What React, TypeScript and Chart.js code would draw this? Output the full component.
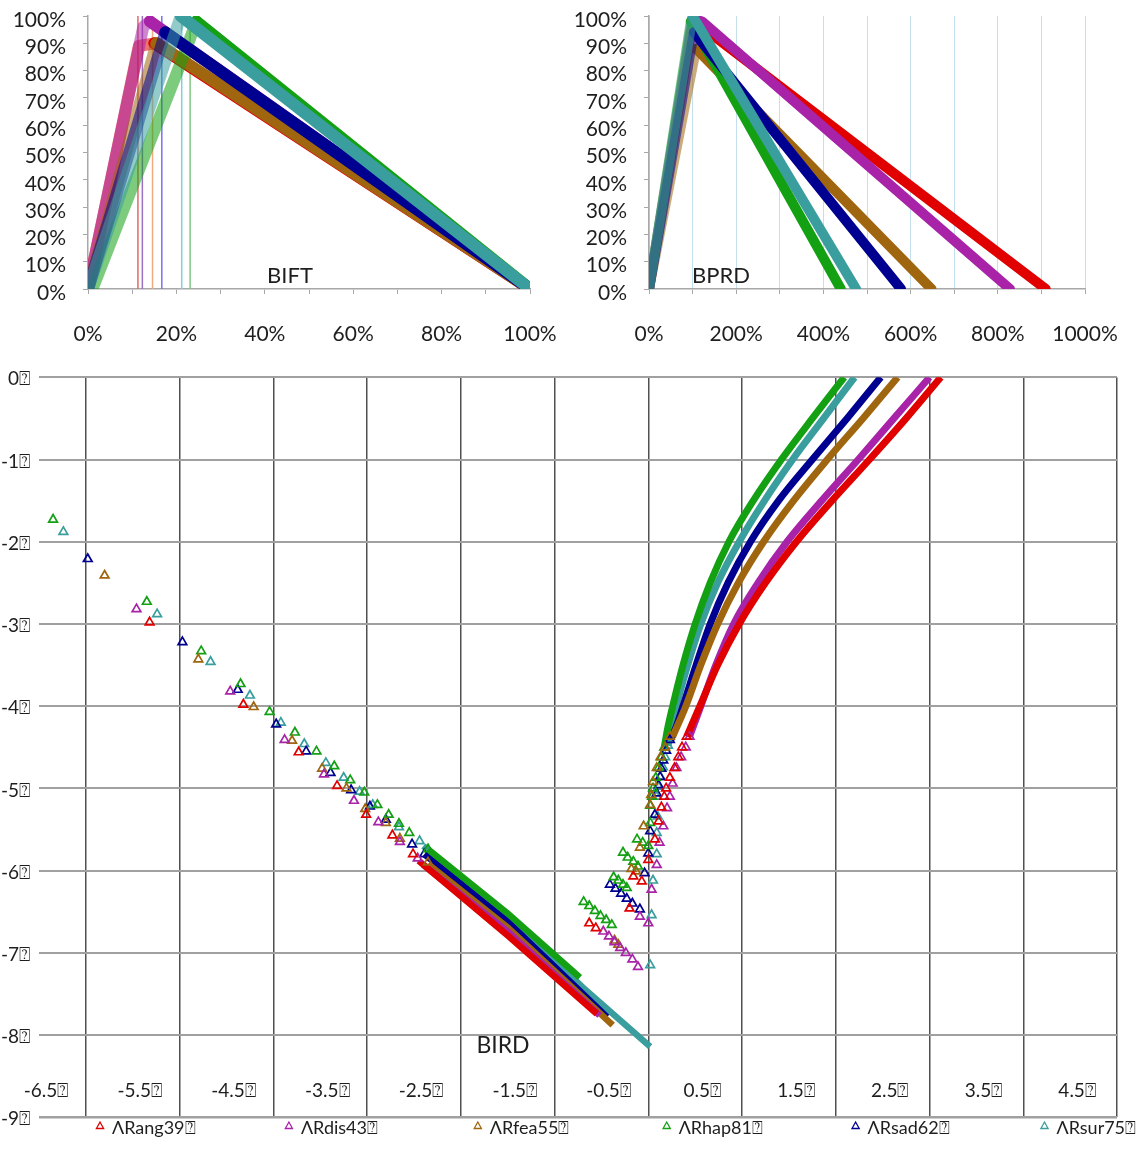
import React, { useEffect, useRef } from 'react';
import { Chart, registerables } from 'chart.js';

Chart.register(...registerables);

const FONT = 'Lato, "Noto Sans", "DejaVu Sans", sans-serif';
const TOFU = '\u2370';
const TEXT = '#1e1e1e';
const AXIS_GRAY = '#a8a8a8';
const LIGHT_BLUE = '#c4dfee';

const SERIES_LABELS = ['ΛRang39', 'ΛRdis43', 'ΛRfea55', 'ΛRhap81', 'ΛRsad62', 'ΛRsur75'];
const SERIES_COLORS = ['#e00000', '#a823a8', '#a0660f', '#13a013', '#000090', '#3a9e9e'];

// ---------- shared percentage axis ----------
const PCT_Y_TICKS = [0, 10, 20, 30, 40, 50, 60, 70, 80, 90, 100];
const PCT_Y_LABELS = ['0%', '10%', '20%', '30%', '40%', '50%', '60%', '70%', '80%', '90%', '100%'];

// ---------- BIFT (top left) ----------
const BIFT_X_TICKS = [0, 10, 20, 30, 40, 50, 60, 70, 80, 90, 100];
const BIFT_X_LABELS = ['0%', '', '20%', '', '40%', '', '60%', '', '80%', '', '100%'];
const BIFT_RANG = [[0, 0], [11.5, 89], [15, 90], [100, 0]];
const BIFT_RDIS = [[0, 0], [12.5, 96], [14, 98], [100, 0]];
const BIFT_RFEA = [[0, 0], [15.5, 90], [100, 0]];
const BIFT_RHAP = [[1, 0], [22, 87], [24.5, 98], [100, 0]];
const BIFT_RSAD = [[0, 0], [17.5, 94], [100, 0]];
const BIFT_RSUR = [[0, 0], [21, 100], [100, 0]];
const BIFT_MARK_X = [11.3, 12.3, 14.6, 23.1, 16.7, 21.2];
const BIFT_MARK_COLORS = ['#e06a6a', '#9a72c4', '#f2aa7c', '#82c882', '#7474f0', '#80d0d8'];

// ---------- BPRD (top right) ----------
const BPRD_X_TICKS = [0, 100, 200, 300, 400, 500, 600, 700, 800, 900, 1000];
const BPRD_X_LABELS = ['0%', '', '200%', '', '400%', '', '600%', '', '800%', '', '1000%'];
const BPRD_RANG = [[0, 0], [100, 97], [130, 95], [910, 0]];
const BPRD_RDIS = [[0, 0], [100, 99], [122, 98], [828, 0]];
const BPRD_RFEA = [[0, 0], [108, 88], [648, 0]];
const BPRD_RHAP = [[0, 0], [96, 98], [440, 0]];
const BPRD_RSAD = [[0, 0], [103, 94], [578, 0]];
const BPRD_RSUR = [[0, 0], [100, 100], [475, 0]];

// ---------- BIRD (bottom) ----------
const BIRD_Y_TICKS = [0, -1, -2, -3, -4, -5, -6, -7, -8, -9];
const BIRD_X_GRID = [-6, -5, -4, -3, -2, -1, 0, 1, 2, 3, 4, 5];
const BIRD_X_LABEL_VALUES = [-6.5, -5.5, -4.5, -3.5, -2.5, -1.5, -0.5, 0.5, 1.5, 2.5, 3.5, 4.5];

const RANG_PTS = [
  [-5.32, -2.98], [-4.32, -3.98], [-3.73, -4.56], [-3.32, -4.97], [-3.01, -5.32], [-2.73, -5.57], [-2.51, -5.8],
  [-0.63, -6.64], [-0.56, -6.7],
  [-0.2, -6.46], [-0.16, -6.07], [-0.07, -6.13], [0.0, -5.87], [0.07, -5.62], [0.11, -5.4], [0.14, -5.23],
  [0.17, -5.1], [0.19, -5.0], [0.23, -4.87], [0.28, -4.75], [0.32, -4.62], [0.36, -4.5], [0.41, -4.37],
];
const RDIS_PTS = [
  [-5.46, -2.82], [-4.46, -3.82], [-3.88, -4.41], [-3.46, -4.83], [-3.14, -5.15], [-2.88, -5.41], [-2.65, -5.65], [-2.46, -5.85],
  [-0.48, -6.74], [-0.42, -6.8], [-0.36, -6.87], [-0.3, -6.94], [-0.24, -7.0], [-0.17, -7.08], [-0.11, -7.17],
  [-0.09, -6.56], [0.0, -6.64], [0.035, -6.23], [0.09, -5.93], [0.12, -5.66], [0.16, -5.46], [0.2, -5.24],
  [0.23, -5.1], [0.26, -4.94], [0.3, -4.75], [0.35, -4.62], [0.4, -4.5], [0.44, -4.37],
];
const RFEA_PTS = [
  [-5.8, -2.41], [-4.8, -3.43], [-4.21, -4.01], [-3.8, -4.42], [-3.48, -4.76], [-3.22, -5.0], [-3.02, -5.25], [-2.8, -5.42], [-2.65, -5.61], [-2.35, -5.9],
  [-0.36, -6.85], [-0.32, -6.9],
  [-0.18, -5.98], [-0.13, -6.01], [-0.09, -5.72], [-0.05, -5.46], [0.02, -5.2], [0.03, -5.08], [0.05, -4.92],
  [0.09, -4.75], [0.13, -4.62], [0.18, -4.5], [0.23, -4.37],
];
const RHAP_PTS = [
  [-6.35, -1.73], [-5.35, -2.73], [-4.77, -3.33], [-4.35, -3.73], [-4.04, -4.07], [-3.77, -4.32], [-3.54, -4.55], [-3.35, -4.73],
  [-3.18, -4.9], [-3.03, -5.05], [-2.89, -5.2], [-2.77, -5.32], [-2.66, -5.43], [-2.55, -5.54], [-2.35, -5.74],
  [-0.69, -6.38], [-0.63, -6.43], [-0.57, -6.49], [-0.51, -6.55], [-0.45, -6.6], [-0.39, -6.66],
  [-0.37, -6.08], [-0.32, -6.12], [-0.27, -6.17], [-0.23, -6.21],
  [-0.27, -5.78], [-0.22, -5.84], [-0.16, -5.89], [-0.11, -5.95],
  [-0.12, -5.62], [-0.06, -5.66], [0.0, -5.7],
  [0.02, -5.42], [0.02, -5.21], [0.04, -5.1], [0.05, -5.0], [0.08, -4.87], [0.11, -4.75], [0.14, -4.62], [0.17, -4.5],
];
const RSAD_PTS = [
  [-5.98, -2.21], [-4.97, -3.22], [-4.38, -3.8], [-3.97, -4.22], [-3.65, -4.55], [-3.39, -4.81], [-3.17, -5.02], [-2.97, -5.22], [-2.8, -5.38], [-2.52, -5.68], [-2.39, -5.8],
  [-0.41, -6.17], [-0.35, -6.22], [-0.29, -6.28], [-0.23, -6.34], [-0.17, -6.4], [-0.09, -6.47],
  [-0.04, -6.03], [0.0, -5.79], [0.02, -5.52], [0.07, -5.32], [0.09, -5.06], [0.11, -4.96], [0.125, -4.86],
  [0.14, -4.76], [0.16, -4.66], [0.19, -4.54], [0.23, -4.41],
];
const RSUR_PTS = [
  [-6.24, -1.88], [-5.24, -2.88], [-4.67, -3.46], [-4.25, -3.87], [-3.92, -4.2], [-3.67, -4.46], [-3.44, -4.69], [-3.25, -4.87],
  [-3.08, -5.04], [-2.94, -5.2], [-2.66, -5.47], [-2.44, -5.64],
  [0.02, -7.15], [0.035, -6.54], [0.05, -6.12], [0.09, -5.8], [0.09, -5.54], [0.1, -5.34], [0.09, -5.1],
  [0.11, -4.98], [0.13, -4.86], [0.155, -4.74], [0.18, -4.62], [0.21, -4.48],
];

const RANG_BAND = [[-2.45, -5.88], [-1.5, -6.79], [-0.55, -7.74]];
const RDIS_BAND = [[-2.4, -5.93], [-1.5, -6.74], [-0.52, -7.76]];
const RFEA_BAND = [[-2.35, -5.92], [-1.5, -6.69], [-0.38, -7.88]];
const RHAP_BAND = [[-2.35, -5.74], [-1.5, -6.52], [-0.73, -7.3]];
const RSAD_BAND = [[-2.39, -5.8], [-1.5, -6.62], [-0.44, -7.78]];
const RSUR_BAND = [[-2.4, -5.7], [-1.5, -6.55], [-0.7, -7.42], [0.02, -8.14]];

const RANG_CURVE = [[0.41, -4.37], [0.55, -4.0], [0.74, -3.5], [0.97, -3.0], [1.25, -2.5], [1.58, -2.0], [1.96, -1.5], [2.36, -1.0], [2.75, -0.5], [3.12, 0.0]];
const RDIS_CURVE = [[0.44, -4.37], [0.56, -4.0], [0.72, -3.5], [0.91, -3.0], [1.17, -2.5], [1.48, -2.0], [1.85, -1.5], [2.24, -1.0], [2.62, -0.5], [3.0, 0.0]];
const RFEA_CURVE = [[0.26, -4.37], [0.4, -4.0], [0.56, -3.5], [0.74, -3.0], [0.96, -2.5], [1.23, -2.0], [1.55, -1.5], [1.91, -1.0], [2.29, -0.5], [2.66, 0.0]];
const RHAP_CURVE = [[0.17, -4.5], [0.21, -4.25], [0.26, -4.0], [0.37, -3.5], [0.5, -3.0], [0.66, -2.5], [0.86, -2.0], [1.12, -1.5], [1.42, -1.0], [1.75, -0.5], [2.09, 0.0]];
const RSAD_CURVE = [[0.24, -4.41], [0.31, -4.21], [0.37, -4.0], [0.51, -3.5], [0.66, -3.0], [0.85, -2.5], [1.09, -2.0], [1.39, -1.5], [1.75, -1.0], [2.12, -0.5], [2.48, 0.0]];
const RSUR_CURVE = [[0.21, -4.48], [0.24, -4.33], [0.3, -4.0], [0.42, -3.5], [0.56, -3.0], [0.74, -2.5], [0.97, -2.0], [1.24, -1.5], [1.54, -1.0], [1.87, -0.5], [2.2, 0.0]];

const BIFT_SERIES = [BIFT_RANG, BIFT_RDIS, BIFT_RFEA, BIFT_RHAP, BIFT_RSAD, BIFT_RSUR];
const BPRD_SERIES = [BPRD_RANG, BPRD_RDIS, BPRD_RFEA, BPRD_RHAP, BPRD_RSAD, BPRD_RSUR];
const BIRD_PTS = [RANG_PTS, RDIS_PTS, RFEA_PTS, RHAP_PTS, RSAD_PTS, RSUR_PTS];
const BIRD_BANDS = [RANG_BAND, RDIS_BAND, RFEA_BAND, RHAP_BAND, RSAD_BAND, RSUR_BAND];
const BIRD_CURVES = [RANG_CURVE, RDIS_CURVE, RFEA_CURVE, RHAP_CURVE, RSAD_CURVE, RSUR_CURVE];

const toXY = (arr: number[][]) => arr.map(([x, y]) => ({ x, y }));

function hexA(hex: string, a: number) {
  const n = parseInt(hex.slice(1), 16);
  return `rgba(${(n >> 16) & 255},${(n >> 8) & 255},${n & 255},${a})`;
}

function textPlugin(id: string, text: string, x: number, y: number, size: number) {
  return {
    id,
    afterDraw(chart: any) {
      const ctx = chart.ctx;
      ctx.save();
      ctx.font = `${size}px ${FONT}`;
      ctx.fillStyle = TEXT;
      ctx.textAlign = 'center';
      ctx.textBaseline = 'middle';
      ctx.fillText(text, x, y);
      ctx.restore();
    },
  };
}

function topConfig(p: any) {
  const lines = p.series.map((pts: number[][], i: number) => ({
    data: toXY(pts),
    showLine: true,
    borderColor: SERIES_COLORS[i],
    borderWidth: p.lineWidth,
    pointRadius: 0,
    tension: 0,
    borderCapStyle: 'round',
    borderJoinStyle: 'round',
    order: 20 - i,
    segment: {
      borderColor: (ctx: any) =>
        ctx.p1.parsed.y > ctx.p0.parsed.y ? hexA(SERIES_COLORS[i], 0.55) : SERIES_COLORS[i],
    },
  }));
  return {
    type: 'scatter',
    data: { datasets: [...lines, ...p.extra] },
    options: {
      responsive: false,
      animation: false,
      events: [],
      layout: { padding: { left: 0, top: 16, right: p.canvasW - p.right, bottom: 0 } },
      plugins: { legend: { display: false }, tooltip: { enabled: false } },
      scales: {
        x: {
          type: 'linear',
          min: 0,
          max: p.xMax,
          afterBuildTicks: (s: any) => {
            s.ticks = p.xTicks.map((v: number) => ({ value: v }));
          },
          afterFit: (s: any) => {
            s.height = 350 - 289;
            s.paddingLeft = 0;
            s.paddingRight = 0;
          },
          ticks: {
            autoSkip: false,
            maxRotation: 0,
            callback: (_v: any, i: number) => p.xLabels[i],
            font: { family: FONT, size: 21 },
            color: TEXT,
            padding: 28,
          },
          grid: {
            drawOnChartArea: p.gridLines,
            color: LIGHT_BLUE,
            tickColor: AXIS_GRAY,
            tickLength: 5,
          },
          border: { display: true, color: AXIS_GRAY, width: 1.5 },
        },
        y: {
          type: 'linear',
          min: 0,
          max: 100,
          afterBuildTicks: (s: any) => {
            s.ticks = PCT_Y_TICKS.map((v) => ({ value: v }));
          },
          afterFit: (s: any) => {
            s.width = p.left;
            s.paddingTop = 0;
            s.paddingBottom = 0;
          },
          ticks: {
            autoSkip: false,
            callback: (_v: any, i: number) => PCT_Y_LABELS[i],
            font: { family: FONT, size: 21 },
            color: TEXT,
            padding: 17,
            labelOffset: 4,
          },
          grid: { drawOnChartArea: false, color: AXIS_GRAY, tickLength: 5 },
          border: { display: true, color: AXIS_GRAY, width: 1.5 },
        },
      },
    },
    plugins: [textPlugin('t_' + p.title, p.title, p.titleX, 276, 22)],
  };
}

function biftConfig() {
  const marks = BIFT_MARK_X.map((x, i) => ({
    data: [{ x, y: 0 }, { x, y: 100 }],
    showLine: true,
    borderColor: BIFT_MARK_COLORS[i],
    borderWidth: 1.5,
    pointRadius: 0,
    order: 30,
  }));
  return topConfig({
    series: BIFT_SERIES,
    xMax: 100,
    xTicks: BIFT_X_TICKS,
    xLabels: BIFT_X_LABELS,
    gridLines: false,
    lineWidth: 12,
    extra: marks,
    left: 88,
    right: 530,
    canvasW: 570,
    title: 'BIFT',
    titleX: 290,
  });
}

function bprdConfig() {
  return topConfig({
    series: BPRD_SERIES,
    xMax: 1000,
    xTicks: BPRD_X_TICKS,
    xLabels: BPRD_X_LABELS,
    gridLines: true,
    lineWidth: 10,
    extra: [],
    left: 79,
    right: 515,
    canvasW: 573,
    title: 'BPRD',
    titleX: 151,
  });
}

const birdLegendPlugin = {
  id: 'birdLegend',
  afterDraw(chart: any) {
    const ctx = chart.ctx;
    ctx.save();
    ctx.font = `18px ${FONT}`;
    ctx.textBaseline = 'middle';
    ctx.textAlign = 'left';
    SERIES_LABELS.forEach((lab, i) => {
      const cx = 100 + i * 188.9;
      const cy = 777;
      ctx.strokeStyle = SERIES_COLORS[i];
      ctx.lineWidth = 1.3;
      ctx.beginPath();
      ctx.moveTo(cx, cy - 5);
      ctx.lineTo(cx + 3.6, cy + 1.5);
      ctx.lineTo(cx - 3.6, cy + 1.5);
      ctx.closePath();
      ctx.stroke();
      ctx.fillStyle = TEXT;
      ctx.fillText(lab + TOFU, cx + 12, cy + 1);
    });
    ctx.restore();
  },
};

function birdConfig() {
  const pts = BIRD_PTS.map((d, i) => ({
    label: SERIES_LABELS[i] + TOFU,
    data: toXY(d),
    showLine: false,
    pointStyle: 'triangle',
    pointRadius: 5,
    borderWidth: 1.7,
    borderColor: SERIES_COLORS[i],
    backgroundColor: 'rgba(255,255,255,0)',
    order: i,
  }));
  const bands = BIRD_BANDS.map((d, i) => ({
    data: toXY(d),
    showLine: true,
    pointRadius: 0,
    borderWidth: 6.5,
    borderColor: SERIES_COLORS[i],
    tension: 0,
    order: 10 + i,
  }));
  const curves = BIRD_CURVES.map((d, i) => ({
    data: toXY(d),
    showLine: true,
    pointRadius: 0,
    borderWidth: 7,
    borderColor: SERIES_COLORS[i],
    cubicInterpolationMode: 'monotone',
    order: 20 + i,
  }));
  return {
    type: 'scatter',
    data: { datasets: [...pts, ...bands, ...curves] },
    options: {
      responsive: false,
      animation: false,
      events: [],
      layout: { padding: { left: 0, top: 27.3, right: 26, bottom: 0 } },
      plugins: { legend: { display: false }, tooltip: { enabled: false } },
      scales: {
        x: {
          type: 'linear',
          min: -6.5,
          max: 5,
          afterBuildTicks: (s: any) => {
            s.ticks = BIRD_X_GRID.map((v) => ({ value: v }));
          },
          afterFit: (s: any) => {
            s.height = 801 - 767.3;
          },
          ticks: { display: false },
          grid: { color: '#505050', lineWidth: 1.5, drawTicks: false },
          border: { display: false },
        },
        x2: {
          type: 'linear',
          axis: 'x',
          min: -6.5,
          max: 5,
          position: { y: -8.38 },
          afterBuildTicks: (s: any) => {
            s.ticks = BIRD_X_LABEL_VALUES.map((v) => ({ value: v }));
          },
          afterFit: (s: any) => {
            s.height = 0;
          },
          ticks: {
            autoSkip: false,
            maxRotation: 0,
            callback: (_v: any, i: number) => `${BIRD_X_LABEL_VALUES[i]}${TOFU}`,
            font: { family: FONT, size: 19 },
            color: TEXT,
            padding: 5,
            labelOffset: 7,
          },
          grid: { display: false },
          border: { display: false },
        },
        y: {
          type: 'linear',
          min: -9,
          max: 0,
          afterBuildTicks: (s: any) => {
            s.ticks = BIRD_Y_TICKS.map((v) => ({ value: v }));
          },
          afterFit: (s: any) => {
            s.width = 39;
          },
          ticks: {
            autoSkip: false,
            callback: (_v: any, i: number) => `${BIRD_Y_TICKS[i]}${TOFU}`,
            font: { family: FONT, size: 19 },
            color: TEXT,
            padding: 9,
            labelOffset: 2,
          },
          grid: {
            color: '#a0a0a0',
            lineWidth: (c: any) => (c.tick && c.tick.value === -9 ? 2.6 : 2),
            drawTicks: false,
          },
          border: { display: false },
        },
      },
    },
    plugins: [textPlugin('t_bird', 'BIRD', 503, 696, 23), birdLegendPlugin],
  };
}

export default function App() {
  const r1 = useRef<HTMLCanvasElement>(null);
  const r2 = useRef<HTMLCanvasElement>(null);
  const r3 = useRef<HTMLCanvasElement>(null);

  useEffect(() => {
    const charts = [
      new Chart(r1.current as HTMLCanvasElement, biftConfig() as any),
      new Chart(r2.current as HTMLCanvasElement, bprdConfig() as any),
      new Chart(r3.current as HTMLCanvasElement, birdConfig() as any),
    ];
    return () => charts.forEach((c) => c.destroy());
  }, []);

  return (
    <div style={{ position: 'absolute', left: 0, top: 0, width: 1143, height: 1151, background: '#fff' }}>
      <canvas ref={r1} width={570} height={350} style={{ position: 'absolute', left: 0, top: 0, width: 570, height: 350 }} />
      <canvas ref={r2} width={573} height={350} style={{ position: 'absolute', left: 570, top: 0, width: 573, height: 350 }} />
      <canvas ref={r3} width={1143} height={801} style={{ position: 'absolute', left: 0, top: 350, width: 1143, height: 801 }} />
    </div>
  );
}
